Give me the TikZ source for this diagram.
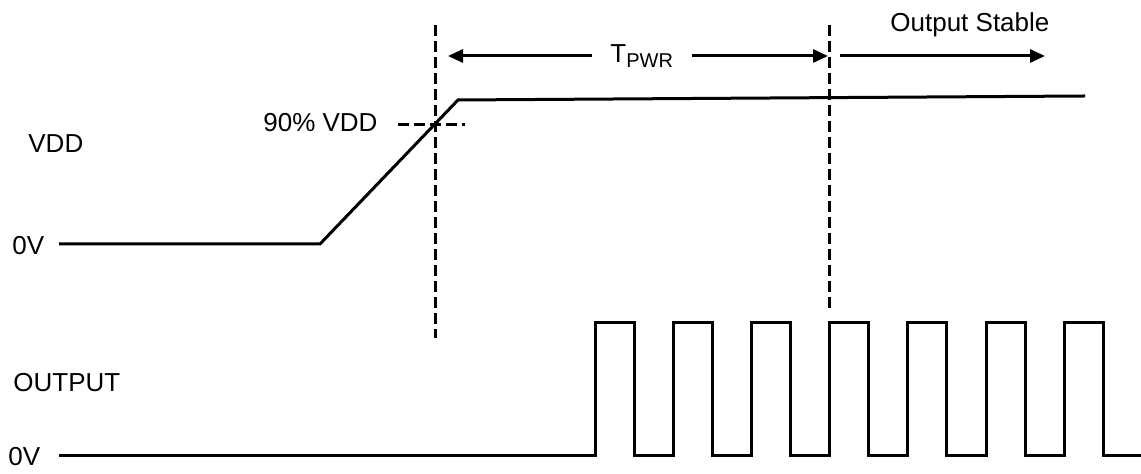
\documentclass[tikz,border=0pt]{standalone}
\usepackage{fontspec}
\setmainfont{Liberation Sans}
\usetikzlibrary{arrows.meta}

\begin{document}
\begin{tikzpicture}[
    x=0.5pt, y=-0.5pt,
    signal/.style={line width=1.5pt, line join=miter},
    guide/.style={line width=1.5pt, dash pattern=on 5.5pt off 2.5pt},
    spanarrow/.style={line width=1.5pt, -{Triangle[length=7.5pt, width=6.5pt]}},
    lbl/.style={anchor=base west, inner sep=0pt, font=\fontsize{13}{15.6}\selectfont}
]
    \useasboundingbox (0,0) rectangle (1141,474);

    % Labels
    \node[lbl] (vddlbl) at (28,153) {VDD};
    \node[lbl] (zerotop) at (12,255) {0V};
    \node[lbl] (ninety) at (263,132) {90\% VDD};
    \node[lbl] (outlbl) at (13,392) {OUTPUT};
    \node[lbl] (zerobot) at (8,466) {0V};
    \node[lbl] (tpwr) at (610,63) {T\raisebox{-2.5pt}{\fontsize{10}{12}\selectfont PWR}};
    \node[lbl] (stable) at (890,32) {Output Stable};

    % VDD ramp
    \coordinate (vddstart) at (59,244);
    \coordinate (rampfoot) at (320,244);
    \coordinate (ramptop) at (458,100);
    \coordinate (vddend) at (1085,96);
    \draw[signal] (vddstart) -- (rampfoot) -- (ramptop) -- (vddend);

    % Timing marks
    \coordinate (starttop) at (435,25);
    \coordinate (startbot) at (435,338);
    \coordinate (stabletop) at (829,25);
    \coordinate (stablebot) at (829,312);
    \coordinate (ninetyl) at (398,125);
    \coordinate (ninetyr) at (465,125);
    \draw[guide] (starttop) -- (startbot);
    \draw[guide] (stabletop) -- (stablebot);
    \draw[guide] (ninetyl) -- (ninetyr);

    % Interval arrows
    \coordinate (pwrl) at (592,56);
    \coordinate (pwrltip) at (448,56);
    \coordinate (pwrr) at (692,56);
    \coordinate (pwrrtip) at (828,56);
    \coordinate (stablel) at (840,56);
    \coordinate (stabletip) at (1045,56);
    \draw[spanarrow] (pwrl) -- (pwrltip);
    \draw[spanarrow] (pwrr) -- (pwrrtip);
    \draw[spanarrow] (stablel) -- (stabletip);

    % Output pulses
    \coordinate (outstart) at (59,456);
    \coordinate (outend) at (1141,456);
    \draw[signal] (outstart)
        \foreach \k in {0,...,6} {
            -- ({595+78.2*\k},456) -- ({595+78.2*\k},323)
            -- ({634+78.2*\k},323) -- ({634+78.2*\k},456)
        } -- (outend);

\end{tikzpicture}
\end{document}
